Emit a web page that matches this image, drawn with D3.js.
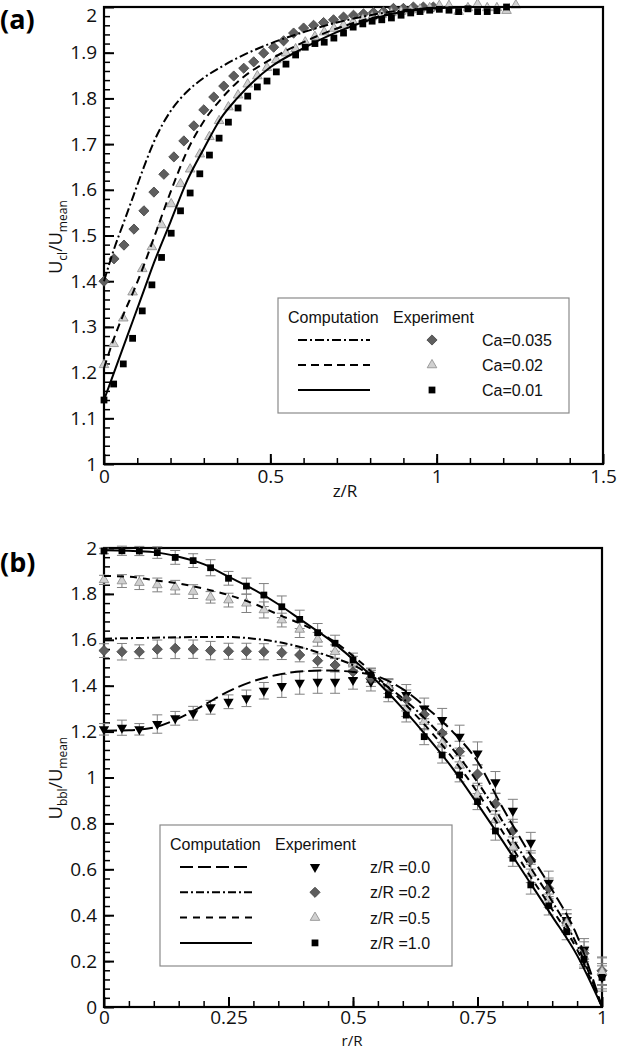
<!DOCTYPE html>
<html>
<head>
<meta charset="utf-8">
<script src="https://cdn.jsdelivr.net/npm/d3@7"></script>
<style>
  body { margin: 0; background: #fff; }
  svg { display: block; }
</style>
</head>
<body>
<svg width="617" height="1050"></svg>
<script>
// ---- panel (a): centre-line velocity vs z/R ----
let zExpDiamond = [0, 0.03, 0.06, 0.09, 0.12, 0.15, 0.18, 0.21, 0.24, 0.27, 0.30, 0.33, 0.36, 0.39, 0.42, 0.45, 0.48, 0.51, 0.54, 0.57, 0.60, 0.63, 0.66, 0.69, 0.72, 0.75, 0.78, 0.81, 0.84, 0.87, 0.90, 0.93, 0.96, 0.99]
let expCa035 = [1.40, 1.449, 1.479, 1.514, 1.554, 1.595, 1.634, 1.672, 1.707, 1.740, 1.775, 1.803, 1.827, 1.849, 1.866, 1.880, 1.899, 1.912, 1.926, 1.943, 1.954, 1.960, 1.966, 1.972, 1.978, 1.982, 1.985, 1.988, 1.990, 1.997, 1.997, 2.000, 2.000, 2.000]
let zExp = [0, 0.029, 0.058, 0.086, 0.115, 0.144, 0.173, 0.202, 0.230, 0.259, 0.288, 0.317, 0.346, 0.374, 0.403, 0.432, 0.461, 0.490, 0.518, 0.547, 0.576, 0.605, 0.634, 0.662, 0.691, 0.720, 0.749, 0.778, 0.806, 0.835, 0.864, 0.893, 0.922, 0.950, 0.979, 1.008, 1.037, 1.066, 1.094, 1.123, 1.152, 1.181, 1.210, 1.238]
let expCa02 = [1.217, 1.263, 1.319, 1.376, 1.427, 1.475, 1.523, 1.569, 1.613, 1.645, 1.678, 1.716, 1.751, 1.781, 1.807, 1.831, 1.849, 1.867, 1.884, 1.899, 1.908, 1.923, 1.935, 1.945, 1.953, 1.960, 1.967, 1.973, 1.978, 1.983, 1.987, 1.990, 1.993, 1.995, 1.998, 2.003, 2.003, 1.990, 1.998, 2.006, 1.998, 1.998, 1.992, 2.004]
let expCa01 = [1.140, 1.175, 1.219, 1.275, 1.335, 1.392, 1.452, 1.505, 1.554, 1.593, 1.635, 1.676, 1.713, 1.748, 1.779, 1.805, 1.825, 1.838, 1.858, 1.875, 1.895, 1.912, 1.920, 1.923, 1.932, 1.943, 1.956, 1.963, 1.969, 1.972, 1.976, 1.982, 1.987, 1.990, 1.993, 1.995, 1.993, 1.990, 1.996, 1.990, 1.990, 1.992, 2.000]

let zSim = [0, 0.03, 0.06, 0.09, 0.12, 0.15, 0.2, 0.25, 0.3, 0.35, 0.4, 0.5, 0.6, 0.7, 0.8, 0.9, 1.0, 1.1, 1.2, 1.5]
let simCa035 = [1.40, 1.47, 1.53, 1.59, 1.65, 1.705, 1.772, 1.815, 1.845, 1.868, 1.888, 1.92, 1.945, 1.966, 1.982, 1.993, 1.998, 2.0, 2.0, 2.0]
let simCa02 = [1.21, 1.275, 1.33, 1.38, 1.435, 1.495, 1.595, 1.685, 1.75, 1.797, 1.835, 1.885, 1.923, 1.953, 1.975, 1.99, 1.997, 2.0, 2.0, 2.0]
let simCa01 = [1.14, 1.20, 1.26, 1.32, 1.38, 1.44, 1.53, 1.62, 1.69, 1.755, 1.80, 1.868, 1.91, 1.945, 1.972, 1.99, 1.998, 2.0, 2.0, 2.0]

let legendA = ['Ca=0.035', 'Ca=0.02', 'Ca=0.01']

// ---- panel (b): bubble velocity profiles vs r/R ----
let rExp = [0, 0.036, 0.071, 0.107, 0.143, 0.179, 0.214, 0.25, 0.286, 0.321, 0.357, 0.393, 0.429, 0.464, 0.5, 0.536, 0.571, 0.607, 0.643, 0.679, 0.714, 0.75, 0.786, 0.821, 0.857, 0.893, 0.929, 0.964, 1.0]
let expZ00 = [1.210, 1.217, 1.210, 1.233, 1.258, 1.280, 1.306, 1.330, 1.345, 1.378, 1.399, 1.413, 1.417, 1.417, 1.425, 1.417, 1.390, 1.360, 1.301, 1.251, 1.178, 1.105, 0.979, 0.855, 0.716, 0.542, 0.379, 0.248, 0.129]
let expZ02 = [1.553, 1.548, 1.548, 1.559, 1.563, 1.559, 1.553, 1.550, 1.550, 1.548, 1.544, 1.534, 1.509, 1.490, 1.461, 1.432, 1.389, 1.341, 1.275, 1.193, 1.113, 1.015, 0.885, 0.768, 0.641, 0.517, 0.367, 0.234, 0.158]
let expZ05 = [1.861, 1.856, 1.849, 1.839, 1.829, 1.810, 1.785, 1.773, 1.759, 1.730, 1.686, 1.645, 1.602, 1.548, 1.498, 1.444, 1.396, 1.301, 1.243, 1.149, 1.054, 0.924, 0.815, 0.696, 0.582, 0.474, 0.365, 0.219, 0.154]
let expZ10 = [1.987, 1.988, 1.987, 1.980, 1.959, 1.945, 1.914, 1.868, 1.834, 1.795, 1.744, 1.689, 1.631, 1.585, 1.512, 1.447, 1.360, 1.272, 1.178, 1.098, 1.011, 0.895, 0.767, 0.648, 0.532, 0.441, 0.328, 0.208, 0.129]
let errZ00 = [0.025, 0.033, 0.025, 0.04, 0.03, 0.03, 0.03, 0.03, 0.036, 0.036, 0.05, 0.05, 0.05, 0.05, 0.04, 0.04, 0.04, 0.045, 0.045, 0.05, 0.05, 0.05, 0.047, 0.05, 0.045, 0.05, 0.045, 0.05, 0.06]
let errZ02 = [0.03, 0.036, 0.03, 0.04, 0.045, 0.04, 0.04, 0.035, 0.035, 0.035, 0.03, 0.03, 0.03, 0.03, 0.03, 0.035, 0.04, 0.04, 0.035, 0.04, 0.045, 0.04, 0.045, 0.05, 0.04, 0.045, 0.04, 0.05, 0.06]
let errZ05 = [0.02, 0.028, 0.03, 0.03, 0.03, 0.03, 0.025, 0.03, 0.04, 0.035, 0.03, 0.035, 0.03, 0.03, 0.03, 0.03, 0.03, 0.035, 0.035, 0.04, 0.04, 0.04, 0.04, 0.045, 0.04, 0.04, 0.04, 0.045, 0.06]
let errZ10 = [0.012, 0.02, 0.02, 0.025, 0.03, 0.03, 0.035, 0.03, 0.035, 0.05, 0.047, 0.04, 0.04, 0.035, 0.03, 0.03, 0.03, 0.03, 0.035, 0.035, 0.03, 0.035, 0.04, 0.035, 0.04, 0.04, 0.035, 0.04, 0.05]

let rSim = [0, 0.05, 0.1, 0.15, 0.2, 0.25, 0.3, 0.35, 0.4, 0.45, 0.5, 0.55, 0.6, 0.65, 0.7, 0.75, 0.8, 0.85, 0.9, 0.95, 1.0]
let simZ00 = [1.204, 1.206, 1.218, 1.258, 1.315, 1.375, 1.42, 1.448, 1.463, 1.466, 1.46, 1.44, 1.385, 1.30, 1.20, 1.07, 0.87, 0.685, 0.51, 0.31, 0]
let simZ02 = [1.605, 1.607, 1.609, 1.611, 1.612, 1.612, 1.605, 1.59, 1.565, 1.53, 1.49, 1.425, 1.345, 1.245, 1.125, 0.98, 0.81, 0.63, 0.46, 0.27, 0]
let simZ05 = [1.878, 1.875, 1.86, 1.845, 1.823, 1.795, 1.758, 1.71, 1.665, 1.61, 1.53, 1.435, 1.33, 1.215, 1.085, 0.935, 0.765, 0.59, 0.425, 0.25, 0]
let simZ10 = [1.99, 1.988, 1.982, 1.962, 1.93, 1.875, 1.82, 1.755, 1.68, 1.605, 1.515, 1.415, 1.30, 1.175, 1.04, 0.885, 0.725, 0.56, 0.395, 0.225, 0]

let legendB = ['z/R =0.0', 'z/R =0.2', 'z/R =0.5', 'z/R =1.0']

let svg = d3.select('svg')
let font = "'Open Sans', sans-serif"
let legendFont = "'Liberation Sans', Arial, sans-serif"

let markers = {
  diamond: { type: d3.symbolSquare, size: 52, rotate: 45, fill: '#5e5e5e', stroke: '#444' },
  tri: { type: d3.symbolTriangle, size: 40, rotate: 0, fill: '#d0d0d0', stroke: '#8a8a8a' },
  square: { type: d3.symbolSquare, size: 46, rotate: 0, fill: '#000', stroke: 'none' },
  invTri: { type: d3.symbolTriangle, size: 46, rotate: 180, fill: '#000', stroke: 'none' }
}

function drawMarkers (g, pts, m) {
  g.selectAll(null)
    .data(pts)
    .enter().append('path')
    .attr('d', d3.symbol().type(m.type).size(m.size))
    .attr('transform', function (d) { return 'translate(' + d[0] + ',' + d[1] + ') rotate(' + m.rotate + ')' })
    .attr('fill', m.fill)
    .attr('stroke', m.stroke)
    .attr('stroke-width', 0.8)
}

function drawPanel (cfg) {
  let x = d3.scaleLinear().domain(cfg.xDomain).range([104, cfg.right])
  let y = d3.scaleLinear().domain(cfg.yDomain).range([cfg.bottom, cfg.top])
  let g = svg.append('g')

  // minor ticks
  let mx = g.append('g').attr('transform', 'translate(0,' + cfg.bottom + ')')
    .call(d3.axisBottom(x).tickValues(cfg.xMinor).tickSize(-6).tickSizeOuter(0).tickFormat(''))
  let my = g.append('g').attr('transform', 'translate(104,0)')
    .call(d3.axisLeft(y).tickValues(cfg.yMinor).tickSize(-6).tickSizeOuter(0).tickFormat(''))
  mx.select('.domain').remove()
  my.select('.domain').remove()
  g.selectAll('.tick line').attr('stroke', '#000').attr('stroke-width', 1.5)

  // major ticks
  let ax = g.append('g').attr('transform', 'translate(0,' + cfg.bottom + ')')
    .call(d3.axisBottom(x).tickValues(cfg.xTicks).tickSize(-10).tickSizeOuter(0).tickPadding(cfg.xPad).tickFormat(d3.format('~g')))
  let ay = g.append('g').attr('transform', 'translate(104,0)')
    .call(d3.axisLeft(y).tickValues(cfg.yTicks).tickSize(-10).tickSizeOuter(0).tickPadding(7).tickFormat(d3.format('~g')))
  ;[ax, ay].forEach(function (a) {
    a.select('.domain').remove()
    a.selectAll('.tick line').attr('stroke', '#000').attr('stroke-width', 2)
    a.selectAll('text').style('font-family', font).style('font-size', '19px').attr('fill', '#111')
  })
  // keep the top label inside the page
  if (cfg.topLabelShift) {
    ay.selectAll('.tick').filter(function (d) { return d === cfg.yDomain[1] })
      .select('text').attr('y', cfg.topLabelShift)
  }

  g.append('rect')
    .attr('x', 104).attr('y', cfg.top)
    .attr('width', cfg.right - 104).attr('height', cfg.bottom - cfg.top)
    .attr('fill', 'none').attr('stroke', '#000').attr('stroke-width', 2.2)

  return { g: g, x: x, y: y }
}

function drawLine (p, xs, ys, dash) {
  let line = d3.line()
    .x(function (d) { return p.x(d[0]) })
    .y(function (d) { return p.y(d[1]) })
    .curve(d3.curveMonotoneX)
  p.g.append('path')
    .datum(d3.zip(xs, ys))
    .attr('d', line)
    .attr('fill', 'none')
    .attr('stroke', '#000')
    .attr('stroke-width', 2)
    .attr('stroke-dasharray', dash)
}

function expPoints (p, xs, ys) {
  return d3.zip(xs, ys).map(function (d) { return [p.x(d[0]), p.y(d[1])] })
}

function yLabel (cx, cy, sub) {
  let t = svg.append('text')
    .attr('transform', 'translate(' + cx + ',' + cy + ') rotate(-90)')
    .attr('text-anchor', 'middle')
    .style('font-family', font).style('font-size', '18px').attr('fill', '#111')
  t.append('tspan').text('U')
  t.append('tspan').attr('dy', 5).style('font-size', '12px').text(sub)
  t.append('tspan').attr('dy', -5).text('/U')
  t.append('tspan').attr('dy', 5).style('font-size', '12px').text('mean')
}

function legend (box, rows) {
  let g = svg.append('g')
  g.append('rect')
    .attr('x', box.x).attr('y', box.y).attr('width', box.w).attr('height', box.h)
    .attr('fill', '#fff').attr('stroke', '#8a8a8a').attr('stroke-width', 1.2)
  g.append('text').attr('x', box.x + 10).attr('y', box.y + 25).text('Computation')
  g.append('text').attr('x', box.expX).attr('y', box.y + 25).text('Experiment')
  rows.forEach(function (r, i) {
    let ry = box.rowY + i * box.rowStep
    g.append('line')
      .attr('x1', box.x + 20).attr('x2', box.x + 92).attr('y1', ry).attr('y2', ry)
      .attr('stroke', '#000').attr('stroke-width', 2).attr('stroke-dasharray', r.dash)
    drawMarkers(g, [[box.markX, ry]], r.marker)
    g.append('text').attr('x', box.labelX).attr('y', ry + 6).text(r.label)
  })
  g.selectAll('text').style('font-family', legendFont).style('font-size', '16px').attr('fill', '#111')
}

// ---------- panel (a) ----------
let pa = drawPanel({
  xDomain: [0, 1.5], yDomain: [1, 2], right: 603, top: 7, bottom: 464,
  xTicks: [0, 0.5, 1, 1.5], xMinor: d3.range(0.1, 1.5, 0.1),
  yTicks: d3.range(1, 2.05, 0.1).map(function (d) { return +d.toFixed(1) }),
  yMinor: d3.range(1.02, 2, 0.02),
  xPad: 5,
  topLabelShift: 8
})
let dashA = { ca035: '9,3,2,3', ca02: '8,5', ca01: null }
drawMarkers(pa.g, expPoints(pa, zExpDiamond, expCa035), markers.diamond)
drawMarkers(pa.g, expPoints(pa, zExp, expCa02), markers.tri)
drawMarkers(pa.g, expPoints(pa, zExp, expCa01), markers.square)
drawLine(pa, zSim, simCa035, dashA.ca035)
drawLine(pa, zSim, simCa02, dashA.ca02)
drawLine(pa, zSim, simCa01, dashA.ca01)

legend({ x: 278, y: 298, w: 291, h: 115, expX: 393, rowY: 340, rowStep: 25, markX: 432, labelX: 482 }, [
  { dash: dashA.ca035, marker: markers.diamond, label: legendA[0] },
  { dash: dashA.ca02, marker: markers.tri, label: legendA[1] },
  { dash: dashA.ca01, marker: markers.square, label: legendA[2] }
])

svg.append('text').attr('x', 345).attr('y', 497).attr('text-anchor', 'middle')
  .style('font-family', font).style('font-size', '17px').attr('fill', '#111').text('z/R')
yLabel(62, 237, 'cl')
svg.append('text').attr('x', 0).attr('y', 29)
  .style('font-family', font).style('font-size', '27px').style('font-weight', 700).text('(a)')

// ---------- panel (b) ----------
let pb = drawPanel({
  xDomain: [0, 1], yDomain: [0, 2], right: 602, top: 548, bottom: 1007,
  xTicks: [0, 0.25, 0.5, 0.75, 1], xMinor: d3.range(0.05, 1, 0.05),
  yTicks: d3.range(0, 2.05, 0.2).map(function (d) { return +d.toFixed(1) }),
  yMinor: d3.range(0.04, 2, 0.04),
  xPad: 3
})
let dashB = { z00: '13,5', z02: '8,3,2,3', z05: '7,6', z10: null }
let seriesB = [
  { ys: expZ00, err: errZ00, marker: markers.invTri },
  { ys: expZ02, err: errZ02, marker: markers.diamond },
  { ys: expZ05, err: errZ05, marker: markers.tri },
  { ys: expZ10, err: errZ10, marker: markers.square }
]
seriesB.forEach(function (s) {
  let bars = pb.g.append('g').attr('stroke', '#808080').attr('stroke-width', 1)
  rExp.forEach(function (r, i) {
    let px = pb.x(r)
    let y0 = pb.y(s.ys[i] - s.err[i])
    let y1 = pb.y(s.ys[i] + s.err[i])
    bars.append('line').attr('x1', px).attr('x2', px).attr('y1', y0).attr('y2', y1)
    bars.append('line').attr('x1', px - 5).attr('x2', px + 5).attr('y1', y0).attr('y2', y0)
    bars.append('line').attr('x1', px - 5).attr('x2', px + 5).attr('y1', y1).attr('y2', y1)
  })
})
seriesB.forEach(function (s) {
  drawMarkers(pb.g, expPoints(pb, rExp, s.ys), s.marker)
})
drawLine(pb, rSim, simZ00, dashB.z00)
drawLine(pb, rSim, simZ02, dashB.z02)
drawLine(pb, rSim, simZ05, dashB.z05)
drawLine(pb, rSim, simZ10, dashB.z10)

legend({ x: 160, y: 825, w: 292, h: 141, expX: 275, rowY: 867, rowStep: 25.3, markX: 315, labelX: 370 }, [
  { dash: dashB.z00, marker: markers.invTri, label: legendB[0] },
  { dash: dashB.z02, marker: markers.diamond, label: legendB[1] },
  { dash: dashB.z05, marker: markers.tri, label: legendB[2] },
  { dash: dashB.z10, marker: markers.square, label: legendB[3] }
])

svg.append('text').attr('x', 352).attr('y', 1046).attr('text-anchor', 'middle')
  .style('font-family', font).style('font-size', '15px').attr('fill', '#111').text('r/R')
yLabel(62, 778, 'bbl')
svg.append('text').attr('x', 0).attr('y', 572)
  .style('font-family', font).style('font-size', '27px').style('font-weight', 700).text('(b)')
</script>
</body>
</html>
